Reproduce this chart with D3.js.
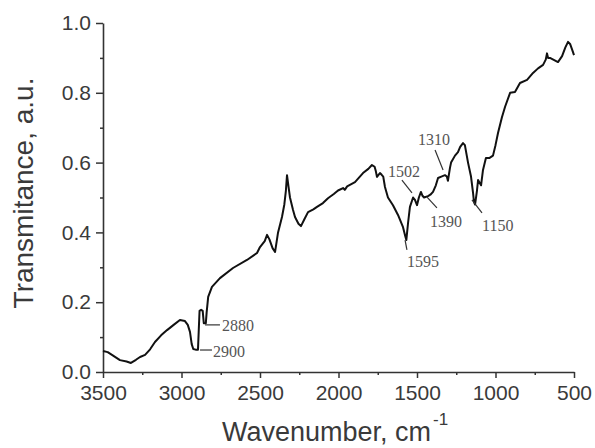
<!DOCTYPE html>
<html>
<head>
<meta charset="utf-8">
<script src="https://cdn.jsdelivr.net/npm/d3@7"></script>
<style>
  html, body { margin: 0; padding: 0; background: #fff; }
  svg { display: block; }
</style>
</head>
<body>
<svg id="chart" width="595" height="448"></svg>
<script>
// ---- data ----
const wavenumber = [
  3500, 3470, 3443, 3392, 3350, 3322, 3290, 3264, 3232, 3200, 3169, 3130, 3092, 3050, 3010,
  2978, 2960, 2946, 2935, 2925, 2910, 2895, 2890, 2885, 2875, 2865, 2858, 2845, 2840, 2830,
  2806, 2755, 2672, 2583, 2519, 2500, 2470, 2455, 2440, 2420, 2404, 2385, 2360, 2345, 2335,
  2328, 2318, 2309, 2290, 2277, 2255, 2239, 2215, 2194, 2160, 2137, 2099, 2067, 2030, 2003,
  1971, 1960, 1945, 1895, 1844, 1810, 1787, 1770, 1762, 1755, 1745, 1736, 1725, 1715, 1704,
  1685, 1653, 1621, 1589, 1575, 1568, 1557, 1545, 1525, 1513, 1500, 1488, 1475, 1465, 1455,
  1430, 1415, 1398, 1380, 1366, 1345, 1322, 1310, 1303, 1290, 1283, 1258, 1239, 1225, 1207,
  1195, 1175, 1156, 1143, 1137, 1130, 1118, 1111, 1092, 1080, 1061, 1040, 1016, 1000, 984,
  959, 939, 907, 876, 844, 799, 761, 729, 697, 680, 672, 665, 653, 602, 576,
  555, 538, 525, 513, 500
];
const transmittance = [
  0.060, 0.057, 0.049, 0.034, 0.030, 0.026, 0.035, 0.043, 0.049, 0.065, 0.086, 0.105, 0.120, 0.135, 0.149,
  0.146, 0.135, 0.115, 0.080, 0.066, 0.064, 0.064, 0.120, 0.175, 0.178, 0.175, 0.140, 0.140, 0.170, 0.215,
  0.244, 0.269, 0.298, 0.321, 0.341, 0.358, 0.375, 0.393, 0.380, 0.355, 0.344, 0.400, 0.444, 0.480, 0.520,
  0.564, 0.530, 0.500, 0.465, 0.444, 0.425, 0.418, 0.440, 0.458, 0.466, 0.473, 0.484, 0.498, 0.510, 0.520,
  0.527, 0.522, 0.532, 0.544, 0.570, 0.582, 0.593, 0.588, 0.575, 0.559, 0.565, 0.570, 0.565, 0.560, 0.530,
  0.500, 0.478, 0.450, 0.415, 0.390, 0.378, 0.427, 0.473, 0.500, 0.493, 0.478, 0.500, 0.516, 0.505, 0.500,
  0.504, 0.508, 0.516, 0.535, 0.556, 0.560, 0.564, 0.560, 0.548, 0.585, 0.600, 0.620, 0.630, 0.645, 0.656,
  0.650, 0.600, 0.560, 0.513, 0.487, 0.480, 0.520, 0.550, 0.535, 0.578, 0.613, 0.613, 0.620, 0.650, 0.685,
  0.730, 0.760, 0.800, 0.802, 0.828, 0.837, 0.857, 0.870, 0.880, 0.895, 0.913, 0.900, 0.900, 0.888, 0.905,
  0.930, 0.946, 0.940, 0.925, 0.908
];

const xTicks = [3500, 3000, 2500, 2000, 1500, 1000, 500];
const xMinorTicks = [3250, 2750, 2250, 1750, 1250, 750];
const yTicks = [0.0, 0.2, 0.4, 0.6, 0.8, 1.0];
const yMinorTicks = [0.1, 0.3, 0.5, 0.7, 0.9];

// peak annotations: label, text anchor point (wavenumber, T), leader line from/to
const peakLabels = ["2900", "2880", "1595", "1502", "1390", "1310", "1150"];
const peakTextW  = [2800, 2742, 1564, 1685, 1417, 1494, 1086];
const peakTextT  = [0.043, 0.117, 0.301, 0.559, 0.415, 0.650, 0.404];
const leaderW1   = [2882, 2850, 1576, 1596, 1436, 1385, 1150];
const leaderT1   = [0.063, 0.135, 0.378, 0.550, 0.501, 0.636, 0.493];
const leaderW2   = [2806, 2755, 1564, 1532, 1373, 1334, 1086];
const leaderT2   = [0.063, 0.135, 0.350, 0.513, 0.470, 0.579, 0.456];

const xTitle = "Wavenumber, cm";
const xTitleSup = "-1";
const yTitle = "Transmitance, a.u.";

// ---- drawing ----
const svg = d3.select("#chart");
svg.append("rect").attr("width", 595).attr("height", 448).attr("fill", "#fff");

const x = d3.scaleLinear().domain([3500, 500]).range([103, 574]);
const y = d3.scaleLinear().domain([0, 1]).range([372, 23]);

const axisColor = "#333";
const textColor = "#3a3a3a";
const sans = "'Liberation Sans', Arial, sans-serif";
const serif = "'Liberation Serif', 'Times New Roman', serif";

// minor ticks
svg.append("g")
  .attr("transform", "translate(0,372)")
  .call(d3.axisBottom(x).tickValues(xMinorTicks).tickSize(3).tickFormat(""))
  .call(g => g.select(".domain").remove())
  .call(g => g.selectAll("line").attr("stroke", axisColor).attr("stroke-width", 1.5));
svg.append("g")
  .attr("transform", "translate(103,0)")
  .call(d3.axisLeft(y).tickValues(yMinorTicks).tickSize(3).tickFormat(""))
  .call(g => g.select(".domain").remove())
  .call(g => g.selectAll("line").attr("stroke", axisColor).attr("stroke-width", 1.5));

// major axes
const gx = svg.append("g")
  .attr("transform", "translate(0,372)")
  .call(d3.axisBottom(x).tickValues(xTicks).tickSize(6).tickSizeOuter(0).tickPadding(7).tickFormat(d3.format("d")));
gx.select(".domain").attr("stroke", axisColor).attr("stroke-width", 1.6);
gx.selectAll("line").attr("stroke", axisColor).attr("stroke-width", 1.5);
gx.selectAll("text").attr("font-family", sans).attr("font-size", 21).attr("fill", textColor);

const gy = svg.append("g")
  .attr("transform", "translate(103,0)")
  .call(d3.axisLeft(y).tickValues(yTicks).tickSize(7).tickSizeOuter(0).tickPadding(5).tickFormat(d3.format(".1f")));
gy.select(".domain").attr("stroke", axisColor).attr("stroke-width", 1.6);
gy.selectAll("line").attr("stroke", axisColor).attr("stroke-width", 1.5);
gy.selectAll("text").attr("font-family", sans).attr("font-size", 21).attr("fill", textColor);

// spectrum line
const pts = wavenumber.map((w, i) => [w, transmittance[i]]);
svg.append("path")
  .datum(pts)
  .attr("fill", "none")
  .attr("stroke", "#111")
  .attr("stroke-width", 2)
  .attr("stroke-linejoin", "round")
  .attr("d", d3.line().x(d => x(d[0])).y(d => y(d[1])));

// annotations
const ann = svg.append("g");
peakLabels.forEach((lab, i) => {
  ann.append("line")
    .attr("x1", x(leaderW1[i])).attr("y1", y(leaderT1[i]))
    .attr("x2", x(leaderW2[i])).attr("y2", y(leaderT2[i]))
    .attr("stroke", "#333").attr("stroke-width", 1.2);
  ann.append("text")
    .attr("x", x(peakTextW[i])).attr("y", y(peakTextT[i]))
    .attr("font-family", serif).attr("font-size", 16).attr("fill", "#555")
    .text(lab);
});

// axis titles
const xt = svg.append("text")
  .attr("x", 222).attr("y", 441)
  .attr("font-family", sans).attr("font-size", 27).attr("fill", textColor);
xt.append("tspan").text(xTitle);
xt.append("tspan").attr("font-size", 17).attr("dx", 2).attr("dy", -16).text(xTitleSup);

svg.append("text")
  .attr("transform", "translate(33,193) rotate(-90)")
  .attr("text-anchor", "middle")
  .attr("font-family", sans).attr("font-size", 28).attr("fill", textColor)
  .text(yTitle);
</script>
</body>
</html>
